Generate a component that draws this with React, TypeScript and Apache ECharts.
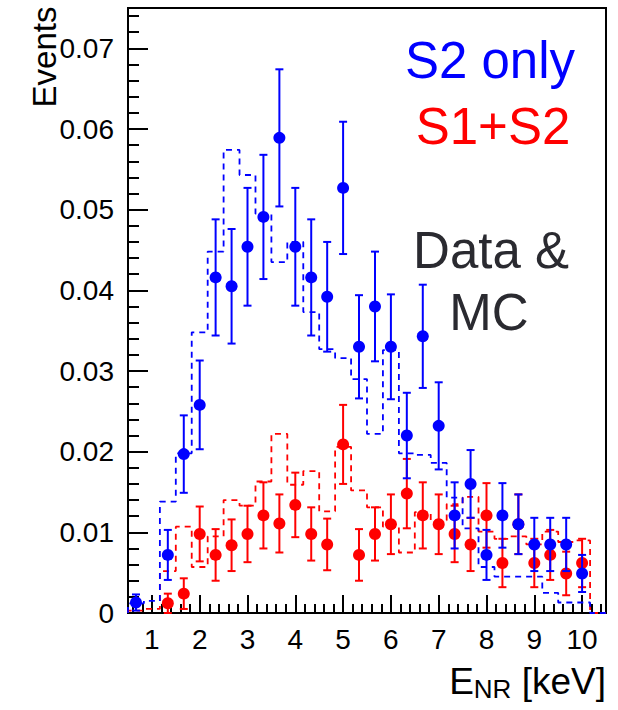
import React, { useEffect, useRef } from "react";
import * as echarts from "echarts";

// ---- Data ----
const binEdges = [0.5, 0.833, 1.167, 1.5, 1.833, 2.167, 2.5, 2.833, 3.167, 3.5, 3.833, 4.167, 4.5, 4.833, 5.167, 5.5, 5.833, 6.167, 6.5, 6.833, 7.167, 7.5, 7.833, 8.167, 8.5, 8.833, 9.167, 9.5, 9.833, 10.167, 10.5];

const blueMC = [0.0012, 0.0015, 0.0138, 0.0198, 0.0348, 0.0448, 0.0574, 0.0543, 0.0495, 0.0435, 0.046, 0.0373, 0.0327, 0.0316, 0.029, 0.0222, 0.0326, 0.0198, 0.0196, 0.0186, 0.0143, 0.0105, 0.0057, 0.0045, 0.0045, 0.0045, 0.0025, 0.0013, 0.0013, 0.0];
const redMC = [0.0003, 0.0005, 0.0052, 0.0107, 0.0057, 0.0095, 0.014, 0.0133, 0.0163, 0.0222, 0.0159, 0.0176, 0.0126, 0.0206, 0.0152, 0.0131, 0.0107, 0.0075, 0.0125, 0.0115, 0.0135, 0.0144, 0.0101, 0.0092, 0.0095, 0.0085, 0.0101, 0.0088, 0.009, 0.0];

const blueE = [0.667, 1.333, 1.667, 2.0, 2.333, 2.667, 3.0, 3.333, 3.667, 4.0, 4.333, 4.667, 5.0, 5.333, 5.667, 6.0, 6.333, 6.667, 7.0, 7.333, 7.667, 8.0, 8.333, 8.667, 9.0, 9.333, 9.667, 10.0];
const blueY = [0.0013, 0.0072, 0.0197, 0.0258, 0.0416, 0.0405, 0.0454, 0.0491, 0.0589, 0.0454, 0.0416, 0.0392, 0.0527, 0.033, 0.038, 0.033, 0.022, 0.0343, 0.0232, 0.0121, 0.016, 0.0072, 0.0121, 0.011, 0.0085, 0.0085, 0.0085, 0.0049];
const blueErr = [0.001, 0.0031, 0.0048, 0.0055, 0.0072, 0.0071, 0.0073, 0.0077, 0.0085, 0.0073, 0.0072, 0.0068, 0.0082, 0.0064, 0.0068, 0.0065, 0.0053, 0.0064, 0.0054, 0.0041, 0.0042, 0.0031, 0.004, 0.0037, 0.0033, 0.0033, 0.0033, 0.0023];

const redE = [1.333, 1.667, 2.0, 2.333, 2.667, 3.0, 3.333, 3.667, 4.0, 4.333, 4.667, 5.0, 5.333, 5.667, 6.0, 6.333, 6.667, 7.0, 7.333, 7.667, 8.0, 8.333, 8.667, 9.0, 9.333, 9.667, 10.0];
const redY = [0.0012, 0.0024, 0.0098, 0.0072, 0.0084, 0.0098, 0.0121, 0.0111, 0.0134, 0.0098, 0.0085, 0.0209, 0.0072, 0.0098, 0.011, 0.0148, 0.0121, 0.011, 0.0098, 0.0085, 0.0121, 0.0062, 0.011, 0.0062, 0.0072, 0.0049, 0.0062];
const redErr = [0.0012, 0.0019, 0.0034, 0.0032, 0.0032, 0.0035, 0.0041, 0.0036, 0.004, 0.0033, 0.0032, 0.0049, 0.0032, 0.0033, 0.0037, 0.0043, 0.0041, 0.0037, 0.0035, 0.0033, 0.004, 0.003, 0.0037, 0.003, 0.0031, 0.0027, 0.003];

const xTickValues = [1, 2, 3, 4, 5, 6, 7, 8, 9, 10];
const yTickValues = [0, 0.01, 0.02, 0.03, 0.04, 0.05, 0.06, 0.07];

const BLUE = "#0000ff";
const RED = "#ff0000";
const FONT = "Liberation Sans, Arial, Helvetica, sans-serif";

function histPoints(values: number[]) {
  const pts: number[][] = [[binEdges[0], 0]];
  values.forEach((v, i) => pts.push([binEdges[i], v]));
  pts.push([binEdges[binEdges.length - 1], values[values.length - 1]]);
  pts.push([binEdges[binEdges.length - 1], 0]);
  return pts;
}

function errRender(color: string) {
  return (params: any, api: any) => {
    const x = api.value(0);
    const y = api.value(1);
    const e = api.value(2);
    const p0 = api.coord([x, Math.max(0, y - e)]);
    const p1 = api.coord([x, y + e]);
    const hw = 4;
    const style = { stroke: color, lineWidth: 2 };
    return {
      type: "group",
      children: [
        { type: "line", shape: { x1: p0[0], y1: p0[1], x2: p1[0], y2: p1[1] }, style },
        { type: "line", shape: { x1: p0[0] - hw, y1: p0[1], x2: p0[0] + hw, y2: p0[1] }, style },
        { type: "line", shape: { x1: p1[0] - hw, y1: p1[1], x2: p1[0] + hw, y2: p1[1] }, style },
      ],
    };
  };
}

export default function App() {
  const ref = useRef<HTMLDivElement>(null);
  useEffect(() => {
    if (!ref.current) return;
    const chart = echarts.init(ref.current, null, { renderer: "svg" });

    const xMinor: number[] = [];
    for (let i = 3; i <= 52; i++) {
      const v = Math.round(i * 0.2 * 1000) / 1000;
      if (Math.abs(v - Math.round(v)) > 1e-6 && v > 0.5 && v < 10.5) xMinor.push(v);
    }
    const yMinor: number[] = [];
    for (let i = 1; i <= 37; i++) {
      if (i % 5 !== 0) yMinor.push(Math.round(i * 0.002 * 10000) / 10000);
    }

    const xMin = binEdges[0];
    const xMax = binEdges[binEdges.length - 1];
    const yMax = 0.075;

    chart.setOption({
      animation: false,
      backgroundColor: "#ffffff",
      grid: {
        left: 128,
        right: 12,
        top: 8,
        bottom: 97,
        show: true,
        borderColor: "#000",
        borderWidth: 2,
      },
      xAxis: [
        {
          type: "value",
          min: xMin,
          max: xMax,
          position: "bottom",
          axisLine: { show: true, onZero: false, lineStyle: { color: "#000", width: 2 } },
          axisTick: { show: true, inside: true, length: 18, customValues: xTickValues, lineStyle: { color: "#000", width: 2 } },
          axisLabel: {
            customValues: xTickValues,
            fontSize: 28,
            color: "#000",
            margin: 12,
            fontFamily: FONT,
          },
          splitLine: { show: false },
        },
        {
          type: "value",
          min: xMin,
          max: xMax,
          position: "bottom",
          axisLine: { show: false },
          axisTick: { show: true, inside: true, length: 9, customValues: xMinor, lineStyle: { color: "#000", width: 2 } },
          axisLabel: { show: false },
          splitLine: { show: false },
        },
      ],
      yAxis: [
        {
          type: "value",
          min: 0,
          max: yMax,
          position: "left",
          axisLine: { show: true, onZero: false, lineStyle: { color: "#000", width: 2 } },
          axisTick: { show: true, inside: true, length: 20, customValues: yTickValues, lineStyle: { color: "#000", width: 2 } },
          axisLabel: {
            customValues: yTickValues,
            fontSize: 28,
            color: "#000",
            margin: 14,
            fontFamily: FONT,
            formatter: (v: number) => (v === 0 ? "0" : v.toFixed(2)),
          },
          splitLine: { show: false },
        },
        {
          type: "value",
          min: 0,
          max: yMax,
          position: "left",
          axisLine: { show: false },
          axisTick: { show: true, inside: true, length: 11, customValues: yMinor, lineStyle: { color: "#000", width: 2 } },
          axisLabel: { show: false },
          splitLine: { show: false },
        },
      ],
      series: [
        {
          type: "line",
          step: "end",
          data: histPoints(redMC),
          showSymbol: false,
          lineStyle: { color: RED, width: 1.8, type: [6, 5] },
          z: 1,
        },
        {
          type: "line",
          step: "end",
          data: histPoints(blueMC),
          showSymbol: false,
          lineStyle: { color: BLUE, width: 1.8, type: [6, 5] },
          z: 2,
        },
        {
          type: "custom",
          renderItem: errRender(RED),
          data: redE.map((e, i) => [e, redY[i], redErr[i]]),
          encode: { x: 0, y: 1 },
          z: 3,
        },
        {
          type: "scatter",
          data: redE.map((e, i) => [e, redY[i]]),
          symbol: "circle",
          symbolSize: 12,
          itemStyle: { color: RED, opacity: 1 },
          z: 4,
        },
        {
          type: "custom",
          renderItem: errRender(BLUE),
          data: blueE.map((e, i) => [e, blueY[i], blueErr[i]]),
          encode: { x: 0, y: 1 },
          z: 5,
        },
        {
          type: "scatter",
          data: blueE.map((e, i) => [e, blueY[i]]),
          symbol: "circle",
          symbolSize: 12,
          itemStyle: { color: BLUE, opacity: 1 },
          z: 6,
        },
      ],
      graphic: [
        {
          type: "text",
          x: 490,
          y: 60,
          style: { text: "S2 only", fill: BLUE, fontSize: 51, fontFamily: FONT, textAlign: "center", textVerticalAlign: "middle" },
          z: 10,
        },
        {
          type: "text",
          x: 493,
          y: 126,
          style: { text: "S1+S2", fill: RED, fontSize: 51, fontFamily: FONT, textAlign: "center", textVerticalAlign: "middle" },
          z: 10,
        },
        {
          type: "text",
          x: 491,
          y: 250,
          style: { text: "Data &", fill: "#2a2a30", fontSize: 51, fontFamily: FONT, textAlign: "center", textVerticalAlign: "middle" },
          z: 10,
        },
        {
          type: "text",
          x: 489,
          y: 312,
          style: { text: "MC", fill: "#2a2a30", fontSize: 51, fontFamily: FONT, textAlign: "center", textVerticalAlign: "middle" },
          z: 10,
        },
        {
          type: "text",
          x: 44,
          y: 57,
          rotation: Math.PI / 2,
          style: { text: "Events", fill: "#000", fontSize: 33, fontFamily: FONT, textAlign: "center", textVerticalAlign: "middle" },
          z: 10,
        },
        {
          type: "text",
          x: 606,
          y: 702,
          style: {
            text: "{a|E}{s|NR}{a| [keV]}",
            textAlign: "right",
            textVerticalAlign: "bottom",
            rich: {
              a: { fontSize: 37, fontFamily: FONT, fill: "#000", color: "#000" },
              s: { fontSize: 26, fontFamily: FONT, fill: "#000", color: "#000", padding: [15, 0, 0, 0] },
            },
          },
          z: 10,
        },
      ],
    });
    return () => chart.dispose();
  }, []);

  return (
    <div
      ref={ref}
      style={{ position: "fixed", left: 0, top: 0, width: 618, height: 710, background: "#fff" }}
    />
  );
}
